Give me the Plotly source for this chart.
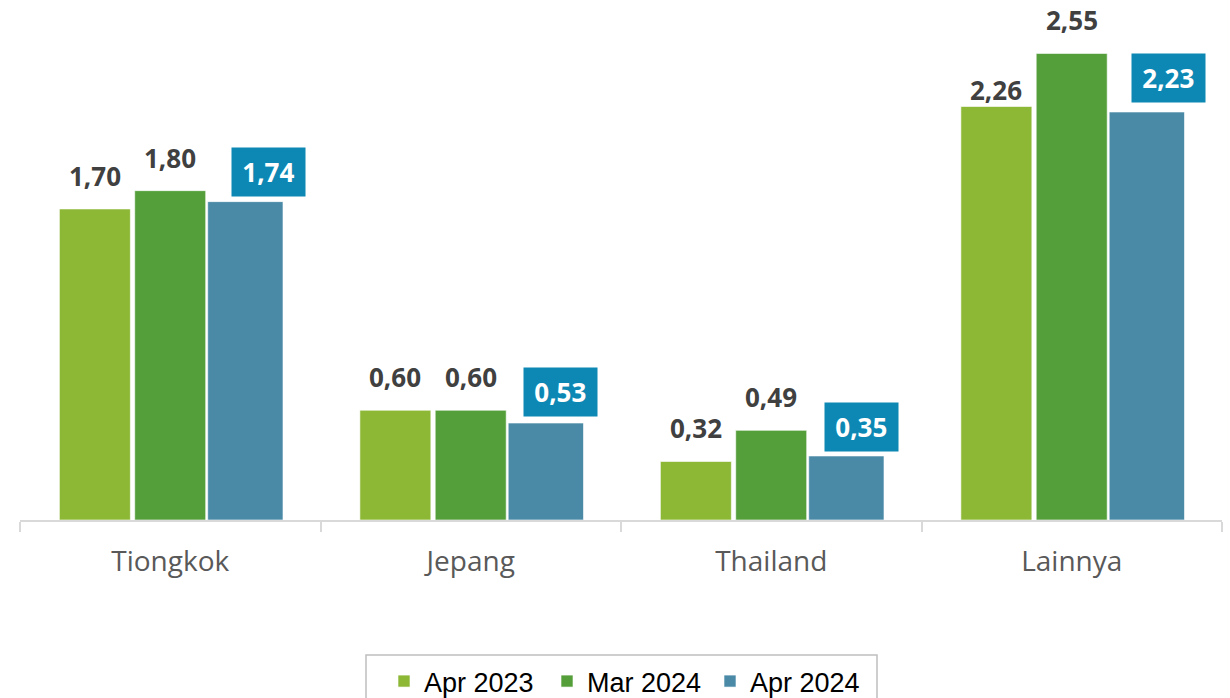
import plotly.graph_objects as go

# Categories and series values
categories = ["Tiongkok", "Jepang", "Thailand", "Lainnya"]
series_names = ["Apr 2023", "Mar 2024", "Apr 2024"]
apr_2023 = [1.70, 0.60, 0.32, 2.26]
mar_2024 = [1.80, 0.60, 0.49, 2.55]
apr_2024 = [1.74, 0.53, 0.35, 2.23]

# Styling
colors = ["#8CB836", "#559F3B", "#4A8AA7"]
bar_offsets = [-0.369, -0.1183, 0.1246]   # left edge of each bar, in category units
bar_widths = [0.2363, 0.2363, 0.2506]
label_color = "#404040"
box_color = "#0D88B4"
label_font = dict(family="Open Sans", size=26, color=label_color)
box_font = dict(family="Open Sans", size=26, color="white")

# pixel gaps above the bars for plain labels, and nudges for boxed labels
plain_gap = 13
plain_gap_override = {(3, 0): -4}
box_dx = [23, 15, 15, 22]
box_dy = [5, 6, 4, 9]

values = [apr_2023, mar_2024, apr_2024]

fig = go.Figure()
for name, vals, col, off, w in zip(series_names, values, colors, bar_offsets, bar_widths):
    fig.add_trace(go.Bar(
        name=name, x=categories, y=vals,
        offset=off, width=w,
        marker=dict(color=col, line=dict(color="rgba(255,255,255,0.6)", width=1)),
        hoverinfo="skip",
    ))

def fmt(v):
    return f"{v:.2f}".replace(".", ",")

pad = "\u2006"
annotations = []
for s, vals in enumerate(values):
    for i, v in enumerate(vals):
        xc = i + bar_offsets[s] + bar_widths[s] / 2
        if s < 2:
            annotations.append(dict(
                x=xc, y=v, xref="x", yref="y", text=f"<b>{fmt(v)}</b>",
                showarrow=False, yanchor="bottom", xanchor="center",
                yshift=plain_gap_override.get((i, s), plain_gap), font=label_font,
            ))
        else:
            annotations.append(dict(
                x=xc, y=v, xref="x", yref="y", text=f"<b>{pad}{fmt(v)}{pad}</b>",
                showarrow=False, yanchor="bottom", xanchor="center",
                xshift=box_dx[i], yshift=box_dy[i], font=box_font,
                bgcolor=box_color, borderpad=6,
            ))

# legend frame
shapes = [dict(
    type="rect", xref="paper", yref="paper",
    x0=(366 - 20) / 1202, x1=(877 - 20) / 1202,
    y0=-0.36, y1=-0.2596,
    line=dict(color="#BFBFBF", width=1.5), fillcolor="rgba(0,0,0,0)",
    layer="above",
)]

fig.update_layout(
    width=1230, height=698,
    margin=dict(l=20, r=8, t=0, b=178, autoexpand=False),
    paper_bgcolor="white", plot_bgcolor="white",
    barmode="overlay",
    annotations=annotations,
    shapes=shapes,
    showlegend=True,
    legend=dict(
        orientation="h", x=(384 - 20) / 1202, xanchor="left", y=-0.2635, yanchor="top",
        font=dict(family="Liberation Sans", size=27, color="black"),
        borderwidth=0, bgcolor="rgba(0,0,0,0)",
        entrywidth=118, entrywidthmode="pixels",
        traceorder="normal",
    ),
    xaxis=dict(
        range=[-0.5, 3.5], showgrid=False, zeroline=False,
        showline=True, linecolor="#D9D9D9", linewidth=2,
        ticks="outside", tickson="boundaries", ticklen=10,
        tickcolor="#D9D9D9", tickwidth=1.5,
        ticklabelstandoff=15,
        tickfont=dict(family="Open Sans", size=28, color="#595959"),
    ),
    yaxis=dict(range=[0, 2.842], visible=False, showgrid=False, zeroline=False),
)

fig.write_html("out.html")
